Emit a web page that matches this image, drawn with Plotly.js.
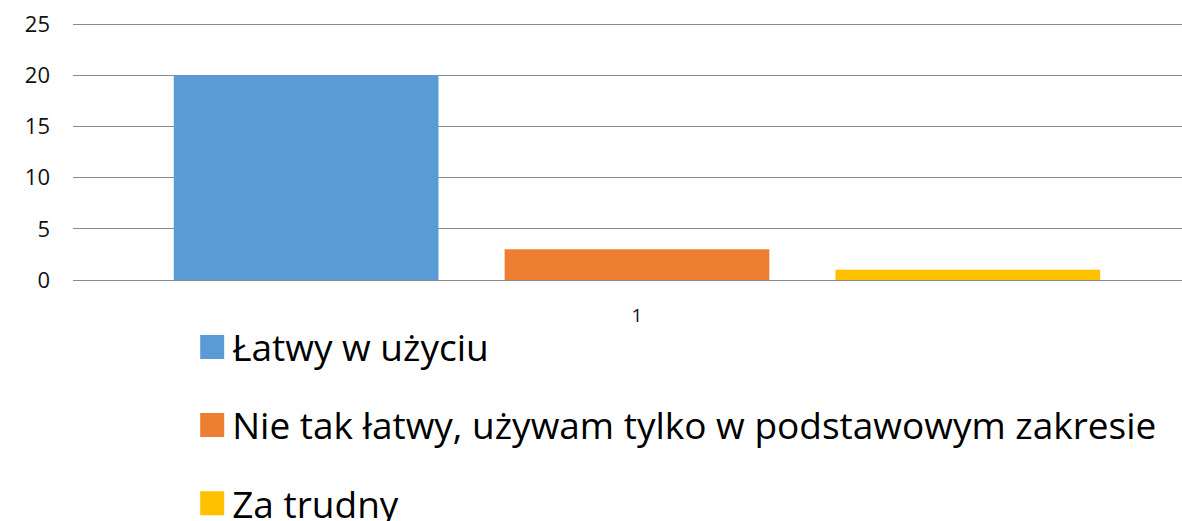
<!DOCTYPE html>
<html>
<head>
<meta charset="utf-8">
<script src="https://cdn.plot.ly/plotly-3.0.1.min.js"></script>
<style>
html,body{margin:0;padding:0;background:#fff;overflow:hidden;}
#chart{width:1182px;height:521px;}
</style>
</head>
<body>
<div id="chart"></div>
<script>
const categories = ['1'];
const seriesNames = ['Łatwy w użyciu', 'Nie tak łatwy, używam tylko w podstawowym zakresie', 'Za trudny'];
const seriesValues = [[20], [3], [1]];
const seriesColors = ['#5B9BD5', '#ED7D31', '#FFC000'];
const yTicks = [0, 5, 10, 15, 20, 25];

const FONT = 'Open Sans, Noto Sans, sans-serif';

const traces = seriesNames.map((name, i) => ({
  type: 'bar',
  name: name,
  x: categories,
  y: seriesValues[i],
  marker: {color: seriesColors[i], line: {width: 0}},
  legendgroup: 'g' + i,
  hoverinfo: 'none'
}));

const layout = {
  width: 1182,
  height: 521,
  margin: {l: 73, r: 0, t: 21, b: 241, autoexpand: false},
  paper_bgcolor: '#ffffff',
  plot_bgcolor: '#ffffff',
  barmode: 'group',
  bargap: 0.12,
  bargroupgap: 0.2,
  showlegend: true,
  xaxis: {
    type: 'category',
    range: [-0.5, 0.4832],
    showgrid: false,
    showline: false,
    zeroline: false,
    ticks: '',
    tickfont: {family: FONT, size: 19, color: '#111'},
    ticklabelstandoff: 22,
    fixedrange: true
  },
  yaxis: {
    range: [0, 25.3],
    tickvals: yTicks,
    ticktext: yTicks.map(String),
    showgrid: true,
    gridcolor: '#8c8c8c',
    gridwidth: 1,
    zeroline: true,
    zerolinecolor: '#8c8c8c',
    zerolinewidth: 1,
    showline: false,
    ticks: '',
    tickfont: {family: FONT, size: 22, color: '#111'},
    ticklabelstandoff: 22,
    fixedrange: true
  },
  legend: {
    orientation: 'v',
    xref: 'container',
    yref: 'container',
    x: 0.1626,
    y: 0.3927,
    xanchor: 'left',
    yanchor: 'top',
    traceorder: 'grouped',
    tracegroupgap: 27,
    font: {family: FONT, size: 37, color: '#000'},
    bgcolor: 'rgba(0,0,0,0)',
    borderwidth: 0
  }
};

Plotly.newPlot('chart', traces, layout, {displayModeBar: false, staticPlot: true}).then(() => {
  document.querySelectorAll('.legend .legendpoints path').forEach(p => {
    p.setAttribute('d', 'M12,12H-12V-12H12Z');
  });
});
</script>
</body>
</html>
